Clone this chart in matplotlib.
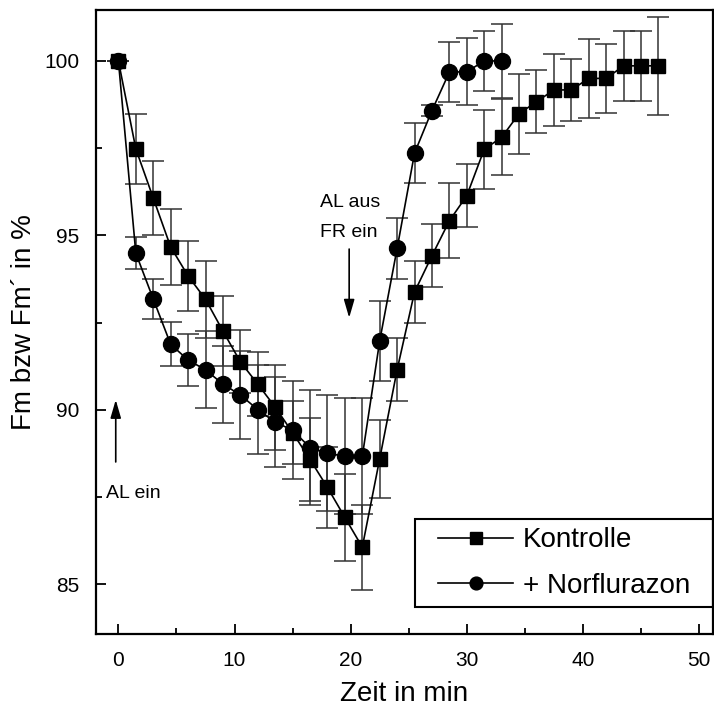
import matplotlib
matplotlib.use("Agg")
import matplotlib.pyplot as plt
from matplotlib.patches import Rectangle
from matplotlib.ticker import MultipleLocator

plt.rcParams['font.family'] = ['Liberation Sans', 'DejaVu Sans']

# Zeitpunkte (min)
t_kontrolle = [0, 1.5, 3, 4.5, 6, 7.5, 9, 10.5, 12, 13.5, 15, 16.5, 18, 19.5, 21, 22.5,
               24, 25.5, 27, 28.5, 30, 31.5, 33, 34.5, 36, 37.5, 39, 40.5, 42, 43.5, 45, 46.5]
y_kontrolle = [100, 97.48, 96.07, 94.67, 93.84, 93.17, 92.26, 91.38, 90.74, 90.08, 89.35,
               88.58, 87.78, 86.92, 86.07, 88.6, 91.15, 93.38, 94.42, 95.42, 96.14, 97.47,
               97.81, 98.49, 98.83, 99.17, 99.17, 99.50, 99.50, 99.86, 99.86, 99.86]
err_kontrolle = [0, 1.0, 1.06, 1.08, 1.0, 1.1, 1.0, 0.9, 0.91, 1.22, 0.9, 1.19, 1.15, 1.25,
                 1.22, 1.12, 0.9, 0.9, 0.9, 1.08, 0.91, 1.13, 1.09, 1.15, 0.9, 1.02, 0.9,
                 1.13, 1.0, 1.0, 1.0, 1.4]

t_norflurazon = [0, 1.5, 3, 4.5, 6, 7.5, 9, 10.5, 12, 13.5, 15, 16.5, 18, 19.5, 21, 22.5,
                 24, 25.5, 27, 28.5, 30, 31.5, 33]
y_norflurazon = [100, 94.49, 93.18, 91.88, 91.43, 91.15, 90.74, 90.43, 90.01, 89.65, 89.42,
                 88.92, 88.76, 88.67, 88.67, 91.98, 94.63, 97.36, 98.58, 99.68, 99.69,
                 100.0, 100.0]
err_norflurazon = [0, 0.46, 0.57, 0.63, 0.74, 1.1, 1.1, 1.27, 1.27, 1.28, 1.4, 1.65, 1.66,
                   1.66, 1.66, 1.15, 0.88, 0.86, 0.15, 0.85, 0.96, 0.87, 1.05]

fig = plt.figure(figsize=(7.14, 7.08), dpi=100)
ax = fig.add_axes([96 / 714, 1 - 634 / 708, 617 / 714, 624 / 708])

# Fehlerbalken hinter den Symbolen
ax.errorbar(t_kontrolle, y_kontrolle, yerr=err_kontrolle, fmt='none',
            ecolor='0.2', elinewidth=1.1, capsize=8, capthick=1.1, zorder=1)
ax.errorbar(t_norflurazon, y_norflurazon, yerr=err_norflurazon, fmt='none',
            ecolor='0.2', elinewidth=1.1, capsize=8, capthick=1.1, zorder=1)

ax.plot(t_kontrolle, y_kontrolle, '-', color='black', lw=1.2, marker='s',
        markersize=10, label='Kontrolle', zorder=3)
ax.plot(t_norflurazon, y_norflurazon, '-', color='black', lw=1.2, marker='o',
        markersize=11.5, label='+ Norflurazon', zorder=4)

ax.set_xlim(-1.93, 51.2)
ax.set_ylim(83.58, 101.46)
ax.xaxis.set_major_locator(MultipleLocator(10))
ax.xaxis.set_minor_locator(MultipleLocator(5))
ax.yaxis.set_major_locator(MultipleLocator(5))
ax.yaxis.set_minor_locator(MultipleLocator(2.5))
ax.tick_params(which='both', direction='in', width=1.3, labelsize=15, pad=12)
ax.tick_params(which='major', length=7)
ax.tick_params(which='minor', length=4)
for s in ax.spines.values():
    s.set_linewidth(1.6)

ax.set_xlabel('Zeit in min', fontsize=20, labelpad=8)
ax.set_ylabel('Fm bzw Fm´ in %', fontsize=20, labelpad=5)

# Markierungen
arrow = dict(arrowstyle='-|>,head_length=0.55,head_width=0.16', color='black',
             lw=1.2, mutation_scale=20, shrinkA=0, shrinkB=0)
ax.annotate('', xy=(-0.23, 90.29), xytext=(-0.23, 88.51), arrowprops=arrow)
ax.text(-1.07, 87.48, 'AL ein', fontsize=14, ha='left', va='baseline')
ax.annotate('', xy=(19.87, 92.64), xytext=(19.87, 94.61), arrowprops=arrow)
ax.text(17.35, 95.82, 'AL aus', fontsize=14, ha='left', va='baseline')
ax.text(17.35, 94.96, 'FR ein', fontsize=14, ha='left', va='baseline')

# Legende mit eigenem Rahmen
box = Rectangle((0.517, 0.0433), 0.483, 0.141, transform=ax.transAxes, fill=False,
                edgecolor='black', lw=1.5, zorder=5)
ax.add_patch(box)
ax.legend(loc='center', bbox_to_anchor=(0.7585, 0.1138), borderaxespad=0,
          fontsize=20, frameon=False, handlelength=2.7, handletextpad=0.35,
          labelspacing=0.7, borderpad=0.2, numpoints=1, markerscale=0.8)

plt.savefig('out.png', dpi=100)
plt.close(fig)
